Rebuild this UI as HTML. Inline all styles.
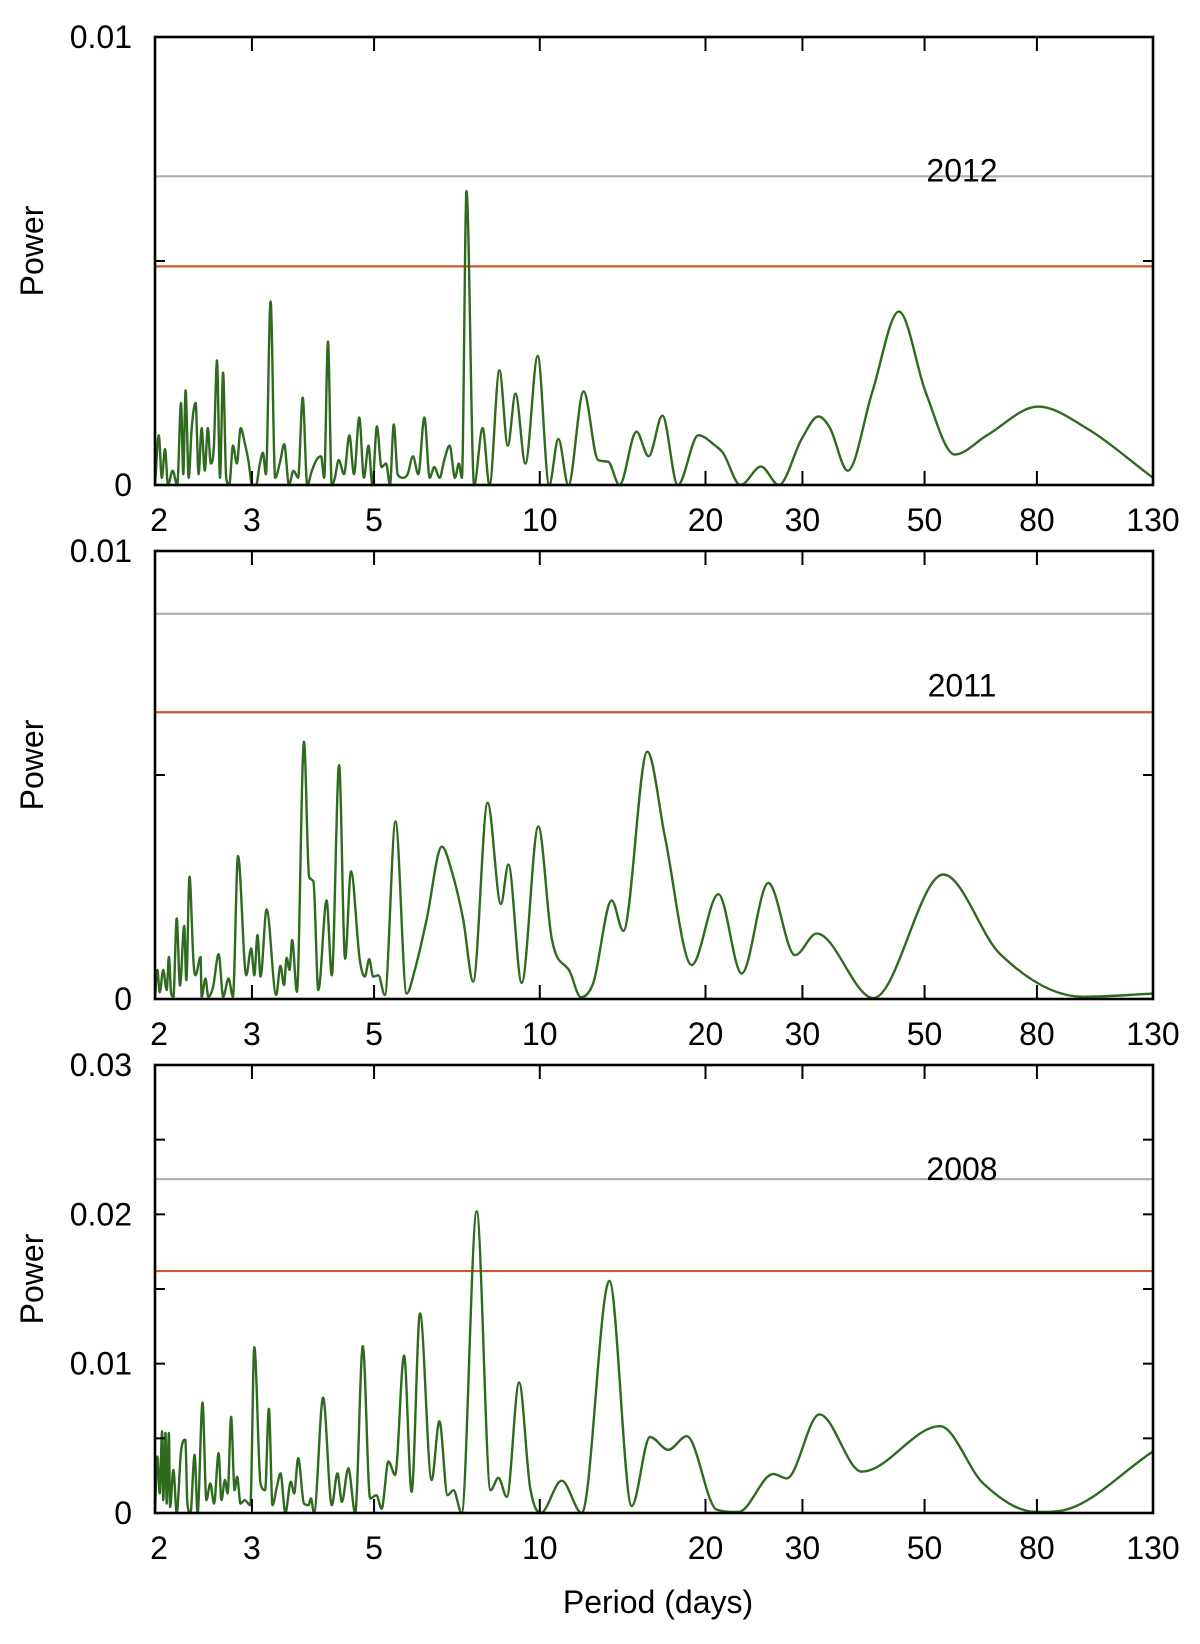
<!DOCTYPE html>
<html><head><meta charset="utf-8"><style>
html,body{margin:0;padding:0;background:#fff;}
svg{display:block;font-family:"Liberation Sans",sans-serif;}
</style></head><body>
<svg id="chart" width="1200" height="1644" viewBox="0 0 1200 1644" xmlns="http://www.w3.org/2000/svg">
<text x="658" y="1613" font-size="32" text-anchor="middle">Period (days)</text>
</svg>
<script>
// ---- data (power in units of 1e-3) ----
const xTickValues = [2,3,5,10,20,30,50,80,130];
const xTickLabels = ["2","3","5","10","20","30","50","80","130"];

const periods2012 = [2.00,2.032,2.058,2.085,2.112,2.153,2.195,2.230,2.251,2.273,2.303,2.332,2.370,2.400,2.431,2.463,2.494,2.526,2.559,2.592,2.625,2.659,2.694,2.728,2.772,2.817,2.862,2.909,2.955,3.003,3.052,3.101,3.141,3.181,3.243,3.306,3.370,3.435,3.502,3.570,3.639,3.710,3.781,3.855,3.930,4.006,4.058,4.123,4.190,4.244,4.312,4.409,4.509,4.597,4.701,4.792,4.885,4.964,5.060,5.158,5.259,5.344,5.430,5.518,5.643,5.753,5.882,6.016,6.171,6.311,6.434,6.579,6.707,6.859,7.014,7.128,7.220,7.360,7.599,7.872,8.102,8.446,8.749,9.034,9.418,9.913,10.40,10.81,11.27,12.01,12.76,13.31,13.96,14.98,15.77,16.70,17.81,19.41,20.83,21.51,23.15,25.24,27.17,29.91,32.09,33.67,36.25,40.17,44.92,50.24,56.73,64.90,80.42,98.39,130];
const power2012 = [0,1.11,0.16,0.80,0,0.32,0,1.83,0.24,2.11,0.16,1.27,1.83,0.24,1.27,0.32,1.27,0.48,0.88,2.78,0.16,2.51,0.16,0,0.88,0.48,1.27,0.95,0.56,0,0,0.48,0.72,0.24,4.10,0.16,0.48,0.91,0,0.32,0.16,1.95,0,0.32,0.56,0.64,0.16,3.20,0,0.16,0.56,0.24,1.11,0.24,1.51,0.16,0.88,0,1.31,0.40,0.48,0,1.35,0.24,0.16,0.24,0.64,0.24,1.51,0.16,0.40,0.16,0.56,0.88,0.16,0.48,0.16,6.56,0,1.27,0,2.56,0.88,2.04,0.48,2.88,0,1.03,0,2.09,0.56,0.52,0,1.19,0.64,1.55,0,1.11,0.88,0.72,0,0.41,0,1.03,1.53,1.27,0.32,2.07,3.87,2.07,0.68,1.11,1.75,1.27,0.16];

const periods2011 = [2.00,2.02,2.04,2.07,2.10,2.12,2.14,2.16,2.19,2.22,2.26,2.28,2.31,2.35,2.37,2.42,2.43,2.47,2.50,2.55,2.61,2.66,2.72,2.77,2.83,2.93,2.99,3.03,3.07,3.11,3.19,3.32,3.38,3.43,3.47,3.51,3.55,3.62,3.73,3.81,3.88,3.96,4.10,4.19,4.32,4.43,4.54,4.71,4.81,4.90,4.98,5.09,5.23,5.47,5.73,5.93,6.23,6.64,6.92,7.26,7.57,8.04,8.50,8.77,9.27,9.94,10.51,11.35,11.87,12.51,13.51,14.18,15.68,16.88,18.88,21.11,23.27,26.01,29.08,31.84,40.36,54.08,68.5,97.0,130];
const power2011 = [0.02,0.65,0.15,0.65,0.20,0.94,0.12,0.05,1.80,0.30,1.63,0.42,2.73,0.79,0.53,0.94,0.05,0.46,0.05,0.27,1.00,0.05,0.46,0.05,3.19,0.53,1.13,0.53,1.43,0.50,2.00,0.09,0.74,0.31,0.92,0.65,1.32,0.16,5.74,2.73,2.62,0.20,2.20,0.53,5.22,0.90,2.85,0.87,0.50,0.89,0.50,0.53,0.09,3.96,0.12,0.65,1.77,3.40,2.85,1.77,0.39,4.38,2.12,3.00,0.36,3.85,1.35,0.60,0.04,0.36,2.20,1.52,5.52,3.62,0.76,2.34,0.57,2.59,0.98,1.46,0.02,2.78,1.01,0.05,0.12];

const periods2008 = [2.00,2.02,2.04,2.06,2.07,2.09,2.10,2.12,2.13,2.16,2.19,2.23,2.27,2.29,2.32,2.36,2.39,2.44,2.48,2.52,2.56,2.61,2.64,2.68,2.71,2.75,2.79,2.82,2.86,2.91,2.98,3.03,3.11,3.17,3.22,3.27,3.33,3.38,3.45,3.53,3.58,3.64,3.73,3.80,3.84,3.89,4.04,4.19,4.29,4.37,4.49,4.62,4.77,4.92,5.05,5.16,5.31,5.46,5.67,5.85,6.06,6.36,6.57,6.80,6.97,7.21,7.68,8.14,8.41,8.71,9.17,9.60,10.04,10.96,11.92,13.38,14.69,15.86,17.12,18.49,20.96,22.95,26.56,28.09,32.20,38.44,53.34,63.9,79.9,88.1,130];
const power2008 = [0.07,3.78,1.31,5.47,0.86,5.36,0.63,5.36,0.41,2.88,0,4.12,4.91,0.63,0,3.90,0,7.39,0.86,1.98,0.63,4.01,0.86,2.21,1.31,6.44,1.53,2.43,0.63,0.86,0.52,11.10,1.98,1.53,6.98,0.52,1.76,2.66,0,2.09,1.31,3.67,0.63,0.52,0.97,0,7.73,0.52,2.66,0.74,3.00,0,11.17,0.97,1.19,0.29,3.45,2.55,10.54,1.42,13.36,2.21,6.15,1.19,1.53,0,20.2,1.53,2.36,1.08,8.74,1.76,0,2.16,0,15.54,0.47,5.09,4.23,5.14,0.23,0.07,2.61,2.32,6.60,2.77,5.81,1.98,0.07,0.14,4.12];

const panelYears = ["2012","2011","2008"];
const grayLevels = [6.89, 8.6, 22.36];
const orangeLevels = [4.88, 6.4, 16.2];
const yMaxes = [10, 10, 30];
const yMinorTicks = [[5],[5],[5,10,15,20,25]];
const yTickLabelVals = [[0,10],[0,10],[0,10,20,30]];
const yTickLabelText = [["0","0.01"],["0","0.01"],["0","0.01","0.02","0.03"]];

// ---- layout ----
const svg = document.getElementById('chart');
const NS = 'http://www.w3.org/2000/svg';
const L = 155, R = 1153;
const tops = [37, 551, 1065], bottoms = [485, 999, 1513];
const labelOffsets = [5, 83, 1];
const xScale = p => L + (R - L) * Math.log(p / 2) / Math.log(65);

function mk(tag, attrs, parent) {
  const e = document.createElementNS(NS, tag);
  for (const k in attrs) e.setAttribute(k, attrs[k]);
  (parent || svg).appendChild(e);
  return e;
}
function smoothPath(xs, ys, B) {
  const n = xs.length, d = [], m = new Array(n);
  for (let i = 0; i < n - 1; i++) d.push((ys[i+1]-ys[i])/(xs[i+1]-xs[i]));
  m[0] = d[0]; m[n-1] = d[n-2];
  for (let i = 1; i < n - 1; i++) m[i] = (d[i-1]*d[i] <= 0) ? 0 : (d[i-1]+d[i])/2;
  for (let i = 0; i < n - 1; i++) {
    if (d[i] === 0) { m[i] = 0; m[i+1] = 0; continue; }
    const a = m[i]/d[i], b = m[i+1]/d[i], s = a*a + b*b;
    if (s > 9) { const t = 3/Math.sqrt(s); m[i] = t*a*d[i]; m[i+1] = t*b*d[i]; }
  }
  const c = v => Math.min(v, B).toFixed(1);
  let p = 'M' + xs[0].toFixed(1) + ',' + c(ys[0]);
  for (let i = 0; i < n - 1; i++) {
    const h = (xs[i+1]-xs[i])/3;
    p += ' C' + (xs[i]+h).toFixed(1) + ',' + c(ys[i]+m[i]*h) + ' ' + (xs[i+1]-h).toFixed(1) + ',' + c(ys[i+1]-m[i+1]*h) + ' ' + xs[i+1].toFixed(1) + ',' + c(ys[i+1]);
  }
  return p;
}

const allPeriods = [periods2012, periods2011, periods2008];
const allPowers = [power2012, power2011, power2008];

for (let k = 0; k < 3; k++) {
  const T = tops[k], B = bottoms[k], ymax = yMaxes[k];
  const yScale = v => B - (B - T) * v / ymax;
  const g = mk('g', {});
  
  

  const gl = mk('line', {x1: L, x2: R, y1: yScale(grayLevels[k]), y2: yScale(grayLevels[k]), stroke: '#b0b0b0', 'stroke-width': 2.2}, g);
  
  
  const ol = mk('line', {x1: L, x2: R, y1: yScale(orangeLevels[k]), y2: yScale(orangeLevels[k]), stroke: '#c85a2c', 'stroke-width': 2.2}, g);
  
  

  const xs = allPeriods[k].map(xScale), ys = allPowers[k].map(v => yScale(v));
  const path = mk('path', {d: smoothPath(xs, ys, B), fill: 'none', stroke: '#2f6b1f', 'stroke-width': 2.4, 'stroke-linejoin': 'round'}, g);
  
  

  const fr = mk('rect', {x: L, y: T, width: R - L, height: B - T, fill: 'none', stroke: '#000', 'stroke-width': 2.6}, g);
  
  

  for (let i = 1; i < xTickValues.length - 1; i++) {
    const x = xScale(xTickValues[i]);
    const t1 = mk('line', {x1: x, x2: x, y1: B, y2: B - 14, stroke: '#000', 'stroke-width': 2}, g);
    
    
    const t2 = mk('line', {x1: x, x2: x, y1: T, y2: T + 14, stroke: '#000', 'stroke-width': 2}, g);
    
    
  }
  for (let i = 0; i < xTickValues.length; i++) {
    const tx = mk('text', {x: xScale(xTickValues[i]) + (i === 0 ? 4 : 0), y: B + 46, 'font-size': 32, 'text-anchor': 'middle'}, g);
    tx.textContent = xTickLabels[i];
    
    
  }
  yMinorTicks[k].forEach(v => {
    const y = yScale(v);
    const a = mk('line', {x1: L, x2: L + 10, y1: y, y2: y, stroke: '#000', 'stroke-width': 2}, g);
    
    
    const b = mk('line', {x1: R, x2: R - 10, y1: y, y2: y, stroke: '#000', 'stroke-width': 2}, g);
    
    
  });
  yTickLabelVals[k].forEach((v, i) => {
    const ty = mk('text', {x: 132, y: yScale(v) + 11, 'font-size': 32, 'text-anchor': 'end'}, g);
    ty.textContent = yTickLabelText[k][i];
    
    
  });
  const yt = mk('text', {x: 0, y: 0, 'font-size': 32, 'text-anchor': 'middle', transform: 'translate(43,' + ((T + B) / 2 - 10) + ') rotate(-90)'}, g);
  yt.textContent = 'Power';
  
  
  const yl = mk('text', {x: 962, y: yScale(grayLevels[k]) + labelOffsets[k], 'font-size': 32, 'text-anchor': 'middle'}, g);
  yl.textContent = panelYears[k];
  
  
}
</script>
</body></html>
